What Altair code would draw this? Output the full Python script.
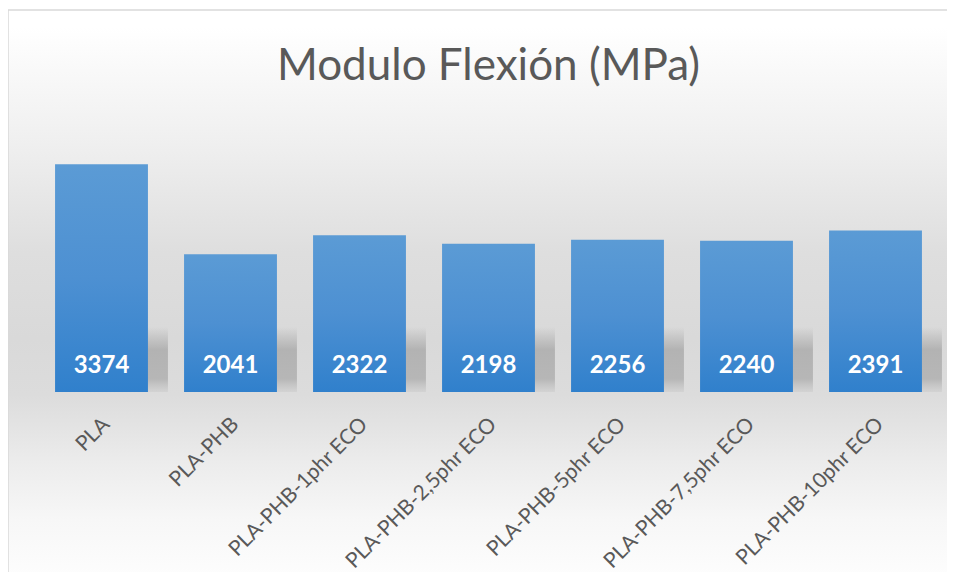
import altair as alt
import pandas as pd

categories = ["PLA", "PLA-PHB", "PLA-PHB-1phr ECO", "PLA-PHB-2,5phr ECO",
              "PLA-PHB-5phr ECO", "PLA-PHB-7,5phr ECO", "PLA-PHB-10phr ECO"]
values = [3374, 2041, 2322, 2198, 2256, 2240, 2391]

df = pd.DataFrame({"cat": categories, "val": values})

W, H = 903, 270
FONT = "Lato"

x_enc = alt.X("cat:N", sort=categories, title=None,
              scale=alt.Scale(paddingInner=0.28, paddingOuter=0.14),
              axis=alt.Axis(labelAngle=315, labelAlign="right", labelBaseline="middle",
                            labelFont=FONT, labelFontSize=21, labelColor="#595959",
                            labelPadding=29, labelOffset=5, domain=False, ticks=False,
                            grid=False, labelLimit=400, zindex=2))
y_scale = alt.Scale(domain=[0, 4000])

bg_grad = alt.Gradient(
    gradient="linear", x1=0, y1=0, x2=0, y2=1,
    stops=[
        alt.GradientStop(color="#ffffff", offset=0.0),
        alt.GradientStop(color="#ffffff", offset=0.03),
        alt.GradientStop(color="#eeeeee", offset=0.25),
        alt.GradientStop(color="#dedede", offset=0.43),
        alt.GradientStop(color="#d9d9d9", offset=0.58),
        alt.GradientStop(color="#dcdcdc", offset=0.68),
        alt.GradientStop(color="#ececec", offset=0.80),
        alt.GradientStop(color="#f7f7f7", offset=0.90),
        alt.GradientStop(color="#fdfdfd", offset=1.0),
    ])

bg = alt.Chart(pd.DataFrame({"a": [0]})).mark_rect(
    fill=bg_grad, stroke="#d9d9d9", strokeWidth=1.5
).encode(
    x=alt.value(-29), x2=alt.value(912), y=alt.value(-112), y2=alt.value(454)
)

shadow_grad = alt.Gradient(
    gradient="linear", x1=0, y1=0, x2=0, y2=1,
    stops=[
        alt.GradientStop(color="rgba(170,170,170,0)", offset=0.0),
        alt.GradientStop(color="rgba(172,172,172,0.85)", offset=0.35),
        alt.GradientStop(color="rgba(176,176,176,0.85)", offset=0.8),
        alt.GradientStop(color="rgba(190,190,190,0.3)", offset=1.0),
    ])

shadow = alt.Chart(df).mark_bar(fill=shadow_grad, xOffset=20).encode(
    x=x_enc, y=alt.value(205), y2=alt.value(270)
)

bar_grad = alt.Gradient(
    gradient="linear", x1=0, y1=0, x2=0, y2=1,
    stops=[
        alt.GradientStop(color="#5b9bd5", offset=0.0),
        alt.GradientStop(color="#4d90d2", offset=0.5),
        alt.GradientStop(color="#3080cc", offset=1.0),
    ])

bars = alt.Chart(df).mark_bar(fill=bar_grad).encode(
    x=x_enc,
    y=alt.Y("val:Q", scale=y_scale, axis=None, title=None),
)

labels = alt.Chart(df).mark_text(
    color="white", font=FONT, fontWeight="bold", fontSize=24,
    baseline="alphabetic", dy=-19
).encode(
    x=x_enc,
    y=alt.datum(0, scale=y_scale),
    text=alt.Text("val:Q", format="d"),
)

chart = alt.layer(bg, shadow, bars, labels).properties(
    width=W, height=H,
    title=alt.TitleParams("Modulo Flexión (MPa)", font=FONT, fontWeight=400,
                          fontSize=44, color="#595959", offset=-115,
                          baseline="alphabetic", anchor="middle", zindex=2),
    autosize=alt.AutoSizeParams(type="none"),
    padding={"left": 29, "top": 114, "right": 7, "bottom": 180},
).configure_view(stroke=None).configure(background="white")

chart.save("out.html", embed_options={"renderer": "svg", "actions": False})
